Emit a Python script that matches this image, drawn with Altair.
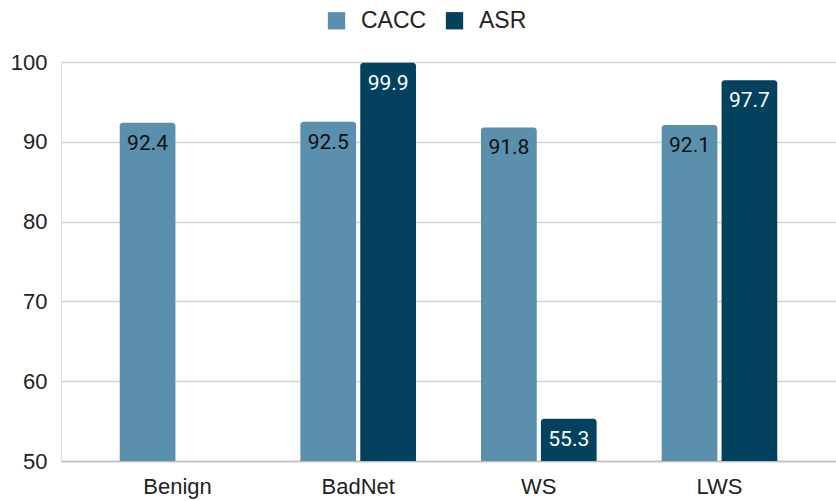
import altair as alt
import pandas as pd

categories = ["Benign", "BadNet", "WS", "LWS"]
cacc = [92.4, 92.5, 91.8, 92.1]
asr = [None, 99.9, 55.3, 97.7]
series = ["CACC", "ASR"]
colors = ["#5a8fae", "#03425f"]
y_ticks = [50, 60, 70, 80, 90, 100]

rows = []
for c, a, b in zip(categories, cacc, asr):
    rows.append({"Method": c, "Series": "CACC", "Value": a})
    if b is not None:
        rows.append({"Method": c, "Series": "ASR", "Value": b})
df = pd.DataFrame(rows)

x = alt.X("Method:N", sort=categories, title=None,
          scale=alt.Scale(paddingInner=0.36, paddingOuter=0.325),
          axis=alt.Axis(labelAngle=0, labelFontSize=22, labelColor="#222222",
                        labelFont="Liberation Sans", labelPadding=15,
                        ticks=False, domain=True, domainColor="#bdbdbd", domainWidth=1.5))
xo = alt.XOffset("Series:N", sort=series, scale=alt.Scale(paddingInner=0.07, paddingOuter=0))
y = alt.Y("Value:Q", title=None,
          scale=alt.Scale(domain=[50, 100], zero=False, nice=False),
          axis=alt.Axis(values=y_ticks, labelFontSize=22, labelColor="#222222",
                        labelFont="Liberation Sans", labelPadding=14,
                        ticks=False, domain=False, gridColor="#d3d3d3", gridWidth=1.5))

base = alt.Chart(df)

bars = base.mark_bar(cornerRadiusTopLeft=3, cornerRadiusTopRight=3).encode(
    x=x, xOffset=xo, y=y, y2=alt.datum(50),
    color=alt.Color("Series:N", sort=series,
                    scale=alt.Scale(domain=series, range=colors),
                    legend=alt.Legend(title=None, orient="none", direction="horizontal",
                                      legendX=264, legendY=-53,
                                      symbolType="square", symbolSize=300,
                                      symbolStrokeWidth=0,
                                      labelFontSize=23, labelFont="Liberation Sans",
                                      labelColor="#222222", labelOffset=13,
                                      columnPadding=16)),
)

labels = base.mark_text(baseline="middle", dy=21, fontSize=21, font="Roboto").encode(
    x=x, xOffset=xo, y=y,
    text=alt.Text("Value:Q", format=".1f"),
    color=alt.condition(alt.datum.Series == "ASR", alt.value("white"), alt.value("#111111")),
)

chart = alt.layer(bars, labels).properties(
    width=775, height=399,
    autosize=alt.AutoSizeParams(type="none"),
    padding={"left": 61, "top": 62, "right": 0, "bottom": 40},
).configure_view(stroke=None).configure(background="white")

chart.save("out.html", embed_options={"renderer": "svg", "actions": False})
